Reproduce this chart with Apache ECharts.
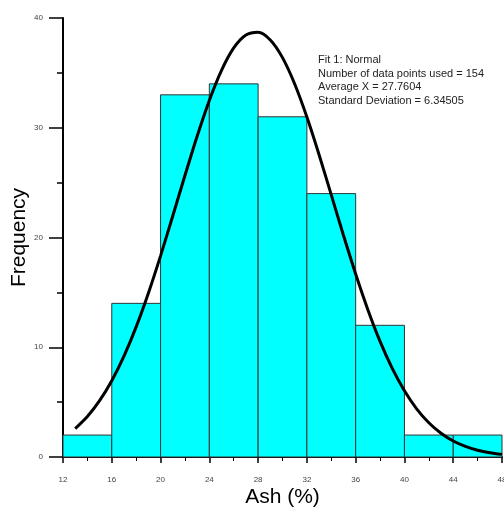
<!DOCTYPE html>
<html><head><meta charset="utf-8">
<script src="https://cdn.jsdelivr.net/npm/echarts@6/dist/echarts.min.js"></script>
<style>html,body{margin:0;padding:0;background:#fff}#c{width:504px;height:512px}</style>
</head><body><div id="c"></div>
<script>
const binStarts = [12,16,20,24,28,32,36,40,44];
const binWidth = 4;
const counts = [2,14,33,34,31,24,12,2,2];
const curveX = [13,14,15,16,17,18,19,20,21,22,23,24,25,26,27,28,29,30,31,32,33,34,35,36,37,38,39,40,41,42,43,44,45,46,47,48];
const curveY = [2.59,3.69,5.13,6.95,9.19,11.86,14.93,18.33,21.96,25.65,29.23,32.49,35.23,37.27,38.45,38.70,38.00,36.39,33.99,30.98,27.54,23.88,20.20,16.67,13.42,10.53,8.07,6.03,4.39,3.12,2.16,1.46,0.97,0.62,0.39,0.24];
const xTicks = [12,16,20,24,28,32,36,40,44,48];
const yTicks = [0,10,20,30,40];
const fitText = ['Fit 1: Normal','Number of data points used = 154','Average X = 27.7604','Standard Deviation = 6.34505'];

const chart = echarts.init(document.getElementById('c'));
const barData = binStarts.map((s,i)=>[s, s+binWidth, counts[i]]);
chart.setOption({
  animation:false,
  grid:{left:63,right:2,top:18,bottom:55,containLabel:false,outerBoundsMode:'none'},
  xAxis:{type:'value',min:12,max:48,interval:4,
    name:'Ash (%)',nameLocation:'middle',nameGap:30,nameMoveOverlap:false,
    nameTextStyle:{fontSize:21,color:'#000',fontFamily:'Liberation Sans'},
    axisLine:{show:true,lineStyle:{color:'#000',width:2}},
    axisTick:{show:true,length:6,lineStyle:{color:'#000',width:1.5}},
    minorTick:{show:true,splitNumber:2,length:4,lineStyle:{color:'#000',width:1}},
    splitLine:{show:false},
    axisLabel:{fontSize:8,color:'#444',margin:19,fontFamily:'Liberation Sans'}},
  yAxis:{type:'value',min:0,max:40,interval:10,
    name:'Frequency',nameLocation:'middle',nameGap:33,nameMoveOverlap:false,
    nameTextStyle:{fontSize:21,color:'#000',fontFamily:'Liberation Sans'},
    axisLine:{show:true,lineStyle:{color:'#000',width:2}},
    axisTick:{show:true,length:14,lineStyle:{color:'#000',width:1.5}},
    minorTick:{show:true,splitNumber:2,length:6,lineStyle:{color:'#000',width:1.5}},
    splitLine:{show:false},
    axisLabel:{fontSize:8,color:'#444',margin:20,fontFamily:'Liberation Sans'}},
  graphic:[{type:'text',left:318,top:53,style:{text:fitText.join('\n'),fontSize:11,lineHeight:13.7,fill:'#222',fontFamily:'Liberation Sans'}}],
  series:[
    {type:'custom',data:barData,encode:{x:[0,1],y:2},
     renderItem:function(params,api){
       const p0=api.coord([api.value(0),api.value(2)]);
       const p1=api.coord([api.value(1),0]);
       return {type:'rect',shape:{x:p0[0],y:p0[1],width:p1[0]-p0[0],height:p1[1]-p0[1]},
         style:{fill:'#00FFFF',stroke:'#333',lineWidth:1}};
     },z:1},
    {type:'line',data:curveX.map((x,i)=>[x,curveY[i]]),smooth:0.3,showSymbol:false,
     lineStyle:{color:'#000',width:3},z:3}
  ]
});
</script></body></html>
